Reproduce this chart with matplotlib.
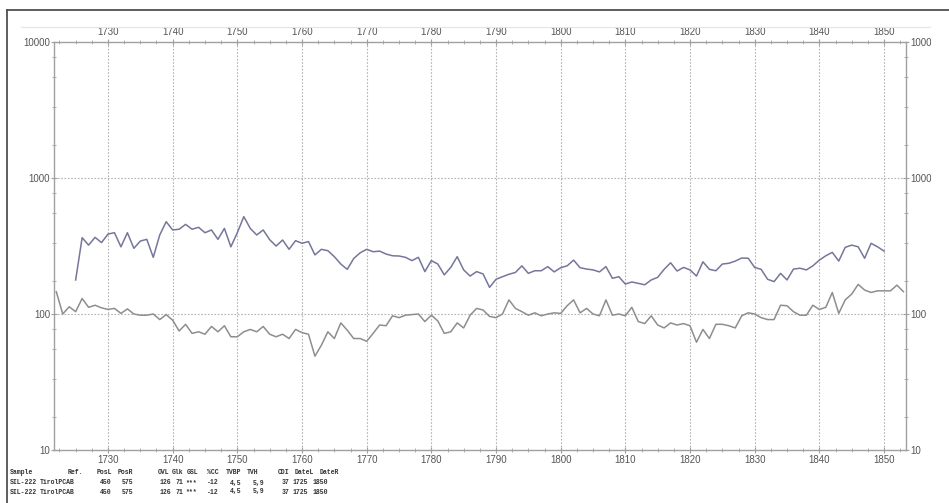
import matplotlib
matplotlib.use("Agg")
import matplotlib.pyplot as plt
import numpy as np
from matplotlib.lines import Line2D
from matplotlib.transforms import Bbox

#-------------------------------------------------------------------------------
# Data

# Sample series SIL-222, 1725-1850
sample_years = np.arange(1725, 1851)
sample_values = [
  178, 364, 321, 366, 335, 387, 396, 312, 396, 304,
  344, 354, 261, 381, 477, 415, 420, 456, 420, 434,
  396, 415, 354, 426, 312, 396, 520, 426, 381, 415,
  352,
  316, 350, 299, 346, 331, 341, 272, 299, 292, 264,
  233, 213, 256, 282, 299, 287, 290, 276, 268, 267,
  261, 247, 261, 205, 247, 233, 194, 220, 264, 211,
  190, 205,
  197, 157, 180, 188, 196, 202, 226, 199, 208, 208,
  223, 204, 219, 226, 249, 219, 214, 211, 204, 223,
  183, 188, 166, 172, 168, 164, 178, 186, 213, 238,
  207, 220, 211,
  190, 242, 213, 208, 233, 236, 245, 258, 257, 220,
  213, 180, 173, 199, 178, 214, 217, 211, 226, 249,
  268, 284, 245, 309, 321, 312, 257, 331, 312, 290,
]

# Reference chronology TirolPCAB, 1722-1853
ref_years = np.arange(1722, 1854)
ref_values = [
  146, 100, 113, 104, 130, 112, 116, 111, 108, 110,
  101, 109, 100, 98, 98, 100, 91, 99, 90, 75,
  84, 72, 74, 71, 81, 74, 82, 68, 68, 74,
  77, 74, 81, 71,
  68, 71, 66, 77, 73, 71, 49, 59, 74, 66,
  86, 76, 66, 66, 63, 72, 83, 82, 97, 94,
  98, 99, 100, 88, 98, 89, 72, 74, 86, 79,
  98, 110,
  107, 96, 94, 100, 127, 110, 104, 98, 102, 97,
  100, 102, 101, 115, 127, 102, 110, 100, 97, 127,
  98, 100, 97, 112, 88, 85, 97, 83, 79, 86,
  83, 85, 82,
  62, 77, 66, 84, 84, 82, 79, 97, 102, 100,
  94, 91, 91, 116, 115, 104, 98, 98, 116, 108,
  112, 144, 101, 127, 140, 165, 150, 144, 148, 148,
  148, 163, 146,
]

x_ticks = np.arange(1730, 1851, 10)
y_ticks = [10, 100, 1000, 10000]

table_header = ["Sample", "Ref.", "PosL", "PosR", "OVL", "Glk", "GSL", "%CC",
                "TVBP", "TVH", "CDI", "DateL", "DateR"]
table_row = ["SIL-222", "TirolPCAB", "450", "575", "126", "71", "***", "-12",
             "4,5", "5,9", "37", "1725", "1850"]

#-------------------------------------------------------------------------------

W, H = 949, 503

def fx(px):
  return px / W

def fy(py):
  return 1 - py / H

def draw_table(fig):
  """ Small statistics table below the plot. """
  head_x = [10, 68, 97, 118, 158, 172, 187, 207, 226, 247, 278, 295, 320]
  row_x = [10, 40, 100, 122, 160, 176, 185, 207, 230, 253, 282, 293, 313]
  kw = dict(fontsize=4.7, family="Liberation Mono", color="#333333",
            va="center", weight="bold")
  for txt, px in zip(table_header, head_x):
    fig.text(fx(px), fy(473), txt, **kw)
  for py in [483, 492]:
    for txt, px in zip(table_row, row_x):
      fig.text(fx(px), fy(py), txt, **kw)

#-------------------------------------------------------------------------------

def main():
  fig = plt.figure(figsize=(W / 100, H / 100), dpi=100)
  ax = fig.add_axes([fx(54), fy(450), fx(906) - fx(54), fy(42) - fy(450)])

  ax.plot(ref_years, ref_values, color="#8e8e8e", lw=1.1)
  ax.plot(sample_years, sample_values, color="#76769a", lw=1.1)

  ax.set_yscale("log")
  ax.set_ylim(10, 10000)
  ax.set_xlim(1721.65, 1853.4)

  ax.set_xticks(x_ticks)
  ax.set_xticks(np.arange(1722.5, 1853.5, 2.5), minor=True)
  ax.set_yticks(y_ticks)
  ax.set_yticklabels([str(v) for v in y_ticks])
  minor_y = [d * f for d in [10, 100, 1000] for f in [7.75, 5.5, 3.3, 1.75]]
  ax.set_yticks(minor_y, minor=True)
  ax.yaxis.set_minor_formatter(matplotlib.ticker.NullFormatter())

  ax.tick_params(which="both", top=True, right=True, labeltop=True,
                 labelright=True, direction="inout", color="#a0a0a0",
                 labelcolor="#555555", labelsize=7)
  ax.tick_params(which="major", length=4)
  ax.tick_params(which="minor", length=3)
  ax.tick_params(axis="x", which="major", pad=1.5)
  ax.tick_params(axis="y", which="major", pad=0.8)
  for lab in ax.get_xticklabels() + ax.get_yticklabels():
    lab.set_family("Liberation Sans")

  for s in ax.spines.values():
    s.set_color("#a0a0a0")
    s.set_linewidth(1.0)

  # Dotted grid at decades and at 100 / 1000
  for xv in x_ticks:
    ax.axvline(xv, color="#b4b4b4", lw=0.8, ls=(0, (1.5, 1.5)), zorder=0)
  for yv in [100, 1000]:
    ax.axhline(yv, color="#b4b4b4", lw=0.8, ls=(0, (1.5, 1.5)), zorder=0)

  # Original picture is cut at the right
  fig.canvas.draw()
  clip = Bbox.from_extents(0, 0, 931, H)
  for t in ax.yaxis.get_major_ticks():
    t.label2.set_clip_box(clip)
    t.label2.set_clip_on(True)

  # Panel frame
  fig.add_artist(Line2D([fx(7), fx(7)], [0, fy(10)], color="#505050", lw=1.3))
  fig.add_artist(Line2D([fx(7), 1], [fy(10), fy(10)], color="#505050", lw=1.3))
  fig.add_artist(Line2D([fx(21), fx(930)], [fy(27), fy(27)], color="#e4e4e4", lw=0.8))

  draw_table(fig)

  fig.savefig("out.png", dpi=100)
  plt.close(fig)

if __name__ == "__main__":
  main()
